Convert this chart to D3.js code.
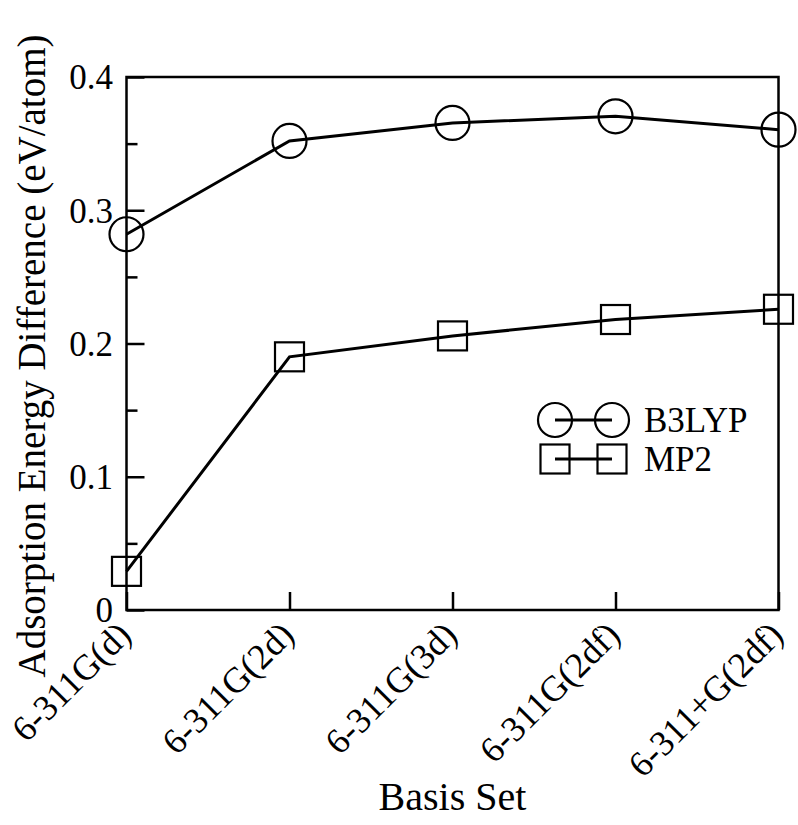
<!DOCTYPE html>
<html>
<head>
<meta charset="utf-8">
<script src="https://cdn.jsdelivr.net/npm/d3@7"></script>
<style>
  html, body { margin: 0; padding: 0; background: #fff; }
  svg { display: block; }
</style>
</head>
<body>
<svg id="chart" width="798" height="825"></svg>
<script>
// Basis sets along the x axis
const basisSets = ["6-311G(d)", "6-311G(2d)", "6-311G(3d)", "6-311G(2df)", "6-311+G(2df)"];
// Adsorption energy differences (eV/atom)
const b3lyp = [0.282, 0.352, 0.3655, 0.3705, 0.3605];
const mp2 = [0.029, 0.190, 0.2057, 0.218, 0.2257];
const yTicks = [0, 0.1, 0.2, 0.3, 0.4];
const yMinorTicks = [0.05, 0.15, 0.25, 0.35];
const seriesNames = ["B3LYP", "MP2"];

const FONT = "'Liberation Serif', 'Times New Roman', serif";
const svg = d3.select("#chart");
const plotLeft = 126.5, plotRight = 778.5, plotTop = 77, plotBottom = 610;

const x = d3.scalePoint().domain(basisSets).range([plotLeft, plotRight]);
const y = d3.scaleLinear().domain([0, 0.4]).range([plotBottom, plotTop]);

// Frame
svg.append("rect")
  .attr("x", plotLeft).attr("y", plotTop)
  .attr("width", plotRight - plotLeft).attr("height", plotBottom - plotTop)
  .attr("fill", "none").attr("stroke", "#000").attr("stroke-width", 2.5);

// Left axis: inward major ticks with labels
const yAxis = d3.axisLeft(y).tickValues(yTicks).tickSize(-18).tickPadding(13.5)
  .tickFormat(d => d === 0 ? "0" : d3.format(".1f")(d));
const gy = svg.append("g").attr("transform", `translate(${plotLeft},0)`).call(yAxis);
gy.select(".domain").remove();
gy.selectAll(".tick line").attr("stroke", "#000").attr("stroke-width", 2.5);
gy.selectAll(".tick text")
  .attr("dy", "0.34em")
  .attr("font-size", 35)
  .attr("fill", "#000")
  .style("font-family", FONT);

// Left axis: minor ticks
const gyMinor = svg.append("g").attr("transform", `translate(${plotLeft},0)`)
  .call(d3.axisLeft(y).tickValues(yMinorTicks).tickSize(-11).tickFormat(""));
gyMinor.select(".domain").remove();
gyMinor.selectAll(".tick line").attr("stroke", "#000").attr("stroke-width", 2.5);

// Bottom axis: inward ticks, labels rotated 45 degrees
const xAxis = d3.axisBottom(x).tickSize(-18).tickPadding(0);
const gx = svg.append("g").attr("transform", `translate(0,${plotBottom})`).call(xAxis);
gx.select(".domain").remove();
gx.selectAll(".tick line").attr("stroke", "#000").attr("stroke-width", 2.5);
gx.selectAll(".tick text")
  .attr("font-size", 36)
  .attr("text-anchor", "end")
  .attr("y", 0)
  .attr("dy", null)
  .attr("fill", "#000")
  .attr("transform", "translate(6,27) rotate(-45)")
  .style("font-family", FONT);

// Axis titles
svg.append("text")
  .attr("x", (plotLeft + plotRight) / 2)
  .attr("y", 810)
  .attr("text-anchor", "middle")
  .attr("font-size", 40)
  .style("font-family", FONT)
  .text("Basis Set");

svg.append("text")
  .attr("transform", `translate(45,${(35 + 677) / 2}) rotate(-90)`)
  .attr("text-anchor", "middle")
  .attr("font-size", 39)
  .style("font-family", FONT)
  .text("Adsorption Energy Difference (eV/atom)");

// Series lines
const line = d3.line().x((d, i) => x(basisSets[i])).y(d => y(d));

svg.append("path").datum(b3lyp).attr("d", line)
  .attr("fill", "none").attr("stroke", "#000").attr("stroke-width", 3);
svg.append("path").datum(mp2).attr("d", line)
  .attr("fill", "none").attr("stroke", "#000").attr("stroke-width", 3);

// Open markers
const r = 17, sq = 29;
svg.append("g").selectAll("circle").data(b3lyp).join("circle")
  .attr("cx", (d, i) => x(basisSets[i])).attr("cy", d => y(d)).attr("r", r)
  .attr("fill", "none").attr("stroke", "#000").attr("stroke-width", 2.2);
svg.append("g").selectAll("rect").data(mp2).join("rect")
  .attr("x", (d, i) => x(basisSets[i]) - sq / 2).attr("y", d => y(d) - sq / 2)
  .attr("width", sq).attr("height", sq)
  .attr("fill", "none").attr("stroke", "#000").attr("stroke-width", 2.2);

// Legend
const legend = svg.append("g");
const lx1 = 555, lx2 = 612, ly = [420, 459];
seriesNames.forEach((name, k) => {
  const g = legend.append("g");
  g.append("line").attr("x1", lx1).attr("x2", lx2).attr("y1", ly[k]).attr("y2", ly[k])
    .attr("stroke", "#000").attr("stroke-width", 3);
  [lx1, lx2].forEach(cx => {
    if (k === 0) {
      g.append("circle").attr("cx", cx).attr("cy", ly[k]).attr("r", r)
        .attr("fill", "none").attr("stroke", "#000").attr("stroke-width", 2.2);
    } else {
      g.append("rect").attr("x", cx - sq / 2).attr("y", ly[k] - sq / 2)
        .attr("width", sq).attr("height", sq)
        .attr("fill", "none").attr("stroke", "#000").attr("stroke-width", 2.2);
    }
  });
  g.append("text").attr("x", 644).attr("y", ly[k] + 12)
    .attr("font-size", 35).style("font-family", FONT).text(name);
});
</script>
</body>
</html>
